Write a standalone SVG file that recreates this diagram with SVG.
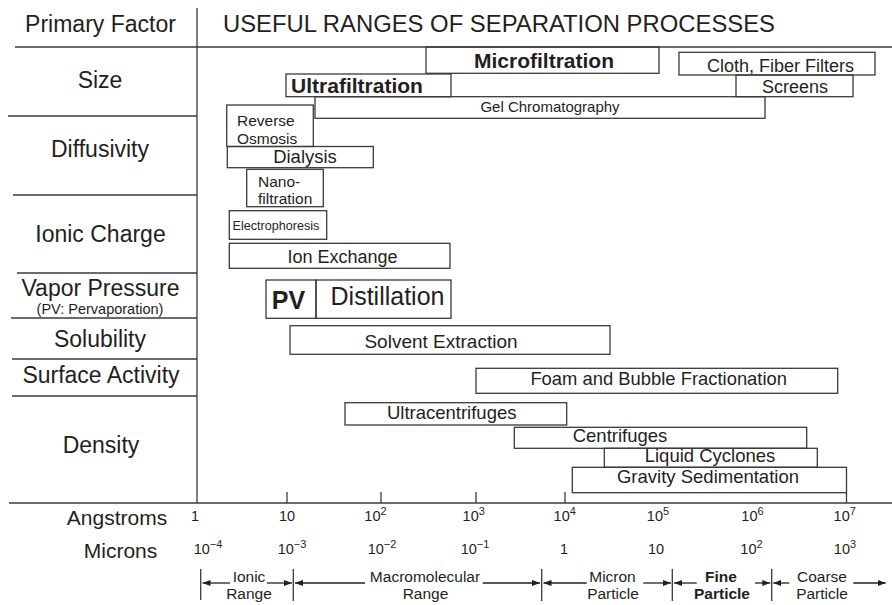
<svg xmlns="http://www.w3.org/2000/svg" width="892" height="605" viewBox="0 0 892 605">
<defs>
<style>
text{font-family:"Liberation Sans",Arial,Helvetica,sans-serif;fill:#231f20}
.ln{stroke:#3a3a3a;stroke-width:1.3;fill:none}
.box{stroke:#3a3a3a;stroke-width:1.3;fill:none}
.hdr{font-size:23px}
.fac{font-size:23px;text-anchor:middle}
.ax{font-size:21px;text-anchor:middle}
.num{font-size:14.5px;text-anchor:middle}
.rng{font-size:15.5px;text-anchor:middle}
.b{font-weight:bold}
.m{text-anchor:middle}
.arr{stroke:#231f20;stroke-width:1.3;fill:none;marker-end:url(#ah)}
</style>
<marker id="ah" viewBox="0 0 8 6" refX="8" refY="3" markerWidth="8" markerHeight="6" markerUnits="userSpaceOnUse" orient="auto">
<path d="M0,0 L8,3 L0,6 Z" fill="#231f20"/>
</marker>
</defs>
<rect width="892" height="605" fill="#ffffff"/>

<g id="frame">
<line class="ln" x1="197" y1="8" x2="197" y2="503"/>
<line class="ln" x1="15" y1="47" x2="892" y2="47"/>
<line class="ln" x1="8" y1="116" x2="197" y2="116"/>
<line class="ln" x1="13" y1="195" x2="197" y2="195"/>
<line class="ln" x1="17" y1="273" x2="197" y2="273"/>
<line class="ln" x1="11" y1="318" x2="197" y2="318"/>
<line class="ln" x1="12" y1="359" x2="197" y2="359"/>
<line class="ln" x1="12" y1="396" x2="197" y2="396"/>
<line class="ln" x1="9" y1="503" x2="892" y2="503"/>
<line class="ln" x1="287" y1="492" x2="287" y2="503"/>
<line class="ln" x1="381" y1="492" x2="381" y2="503"/>
<line class="ln" x1="476" y1="492" x2="476" y2="503"/>
<line class="ln" x1="565" y1="492" x2="565" y2="503"/>
<line class="ln" x1="846.5" y1="492" x2="846.5" y2="503"/>
</g>

<g id="header">
<text class="fac" x="100.5" y="32">Primary Factor</text>
<text class="hdr" x="223" y="32" textLength="552" lengthAdjust="spacingAndGlyphs">USEFUL RANGES OF SEPARATION PROCESSES</text>
</g>

<g id="factors">
<text class="fac" x="100" y="88">Size</text>
<text class="fac" x="100" y="157">Diffusivity</text>
<text class="fac" x="100.5" y="242">Ionic Charge</text>
<text class="fac" x="100.5" y="296">Vapor Pressure</text>
<text class="m" x="100" y="314" font-size="14.5">(PV: Pervaporation)</text>
<text class="fac" x="100" y="347">Solubility</text>
<text class="fac" x="101" y="383">Surface Activity</text>
<text class="fac" x="101" y="453">Density</text>
</g>

<g id="microfiltration"><rect class="box" x="426" y="47" width="233" height="26.3"/><text class="m b" x="544" y="68" font-size="21">Microfiltration</text></g>
<g id="ultrafiltration"><rect class="box" x="286" y="74" width="165" height="22.7"/><text class="m b" x="357" y="92.5" font-size="21">Ultrafiltration</text></g>
<g id="cloth-fiber-filters"><rect class="box" x="679" y="52.3" width="196" height="22.7"/><text class="m" x="780.5" y="71.5" font-size="18">Cloth, Fiber Filters</text></g>
<g id="screens"><rect class="box" x="736" y="75" width="117" height="21.7"/><text class="m" x="795" y="93" font-size="18">Screens</text></g>
<g id="gel-chromatography"><rect class="box" x="315" y="96.7" width="450" height="21.6"/><text class="m" x="550" y="111.5" font-size="15">Gel Chromatography</text></g>
<g id="reverse-osmosis"><rect class="box" x="226.7" y="105" width="86.6" height="41.5"/><text x="237" y="126" font-size="15.5">Reverse</text><text x="237" y="143.5" font-size="15.5">Osmosis</text></g>
<g id="dialysis"><rect class="box" x="227.3" y="146.5" width="146" height="21.2"/><text class="m" x="305" y="163.3" font-size="18.5">Dialysis</text></g>
<g id="nanofiltration"><rect class="box" x="246.7" y="169.3" width="76.6" height="37.4"/><text x="258" y="186.7" font-size="15.5">Nano-</text><text x="258" y="204" font-size="15.5">filtration</text></g>
<g id="electrophoresis"><rect class="box" x="229.3" y="210.7" width="97.4" height="28.6"/><text x="232.5" y="230" font-size="12.6">Electrophoresis</text></g>
<g id="ion-exchange"><rect class="box" x="229.3" y="243.3" width="220.7" height="25"/><text class="m" x="342.5" y="263.3" font-size="18">Ion Exchange</text></g>
<g id="pervaporation"><rect class="box" x="266" y="280" width="50" height="38.3"/><text class="m b" x="288.5" y="309.3" font-size="25">PV</text></g>
<g id="distillation"><rect class="box" x="316" y="280" width="135" height="38.3"/><text class="m" x="387.5" y="305" font-size="25">Distillation</text></g>
<g id="solvent-extraction"><rect class="box" x="290" y="325.7" width="320" height="28.6"/><text class="m" x="441" y="348" font-size="19">Solvent Extraction</text></g>
<g id="foam-bubble-fractionation"><rect class="box" x="476" y="368.3" width="361.7" height="25"/><text class="m" x="658.7" y="385" font-size="18.4">Foam and Bubble Fractionation</text></g>
<g id="ultracentrifuges"><rect class="box" x="345" y="402.7" width="221.7" height="22.3"/><text class="m" x="451.7" y="419.3" font-size="18.5">Ultracentrifuges</text></g>
<g id="centrifuges"><rect class="box" x="514.3" y="427.3" width="292.4" height="21"/><text class="m" x="620" y="441.7" font-size="18.5">Centrifuges</text></g>
<g id="liquid-cyclones"><rect class="box" x="604.3" y="448.3" width="213" height="19"/><text class="m" x="710" y="461.7" font-size="18.5">Liquid Cyclones</text></g>
<g id="gravity-sedimentation"><rect class="box" x="572.3" y="467.3" width="274.2" height="25.4"/><text class="m" x="708" y="483.3" font-size="18.5">Gravity Sedimentation</text></g>

<g id="axis-labels">
<text class="ax" x="117" y="525">Angstroms</text>
<text class="ax" x="120.5" y="558">Microns</text>
<text class="num" x="195" y="521">1</text>
<text class="num" x="287" y="521">10</text>
<text class="num" x="375.5" y="521">10<tspan dy="-6" font-size="11">2</tspan></text>
<text class="num" x="473.7" y="521">10<tspan dy="-6" font-size="11">3</tspan></text>
<text class="num" x="564.7" y="521">10<tspan dy="-6" font-size="11">4</tspan></text>
<text class="num" x="658" y="521">10<tspan dy="-6" font-size="11">5</tspan></text>
<text class="num" x="752.5" y="521">10<tspan dy="-6" font-size="11">6</tspan></text>
<text class="num" x="844.7" y="521">10<tspan dy="-6" font-size="11">7</tspan></text>
<text class="num" x="208" y="554">10<tspan dy="-6" font-size="11">−4</tspan></text>
<text class="num" x="292" y="554">10<tspan dy="-6" font-size="11">−3</tspan></text>
<text class="num" x="382" y="554">10<tspan dy="-6" font-size="11">−2</tspan></text>
<text class="num" x="475" y="554">10<tspan dy="-6" font-size="11">−1</tspan></text>
<text class="num" x="564" y="554">1</text>
<text class="num" x="656" y="554">10</text>
<text class="num" x="751.5" y="554">10<tspan dy="-6" font-size="11">2</tspan></text>
<text class="num" x="845" y="554">10<tspan dy="-6" font-size="11">3</tspan></text>
</g>

<g id="range-ionic"><text class="rng" x="249" y="582">Ionic</text><text class="rng" x="249" y="599">Range</text></g>
<g id="range-macromolecular"><text class="rng" x="425" y="582">Macromolecular</text><text class="rng" x="425.5" y="599">Range</text></g>
<g id="range-micron"><text class="rng" x="612.5" y="582">Micron</text><text class="rng" x="613" y="599">Particle</text></g>
<g id="range-fine"><text class="rng b" x="721" y="582">Fine</text><text class="rng b" x="722" y="599">Particle</text></g>
<g id="range-coarse"><text class="rng" x="822" y="582">Coarse</text><text class="rng" x="822" y="599">Particle</text></g>

<g id="connectors">
<line class="ln" x1="200.7" y1="569" x2="200.7" y2="600"/>
<line class="ln" x1="293.3" y1="569" x2="293.3" y2="601"/>
<line class="ln" x1="541.7" y1="569" x2="541.7" y2="601"/>
<line class="ln" x1="672.3" y1="569" x2="672.3" y2="601"/>
<line class="ln" x1="771.7" y1="569" x2="771.7" y2="601"/>
<line class="arr" x1="230" y1="583" x2="202.5" y2="583"/>
<line class="arr" x1="267" y1="583" x2="292" y2="583"/>
<line class="arr" x1="365" y1="583" x2="295" y2="583"/>
<line class="arr" x1="482.7" y1="583" x2="540" y2="583"/>
<line class="arr" x1="586.7" y1="583" x2="543.5" y2="583"/>
<line class="arr" x1="643.3" y1="583" x2="671" y2="583"/>
<line class="arr" x1="696.7" y1="583" x2="674" y2="583"/>
<line class="arr" x1="755" y1="583" x2="770.3" y2="583"/>
<line class="arr" x1="789.3" y1="583" x2="773.3" y2="583"/>
<line class="arr" x1="853.3" y1="583" x2="885.7" y2="583"/>
</g>
</svg>
